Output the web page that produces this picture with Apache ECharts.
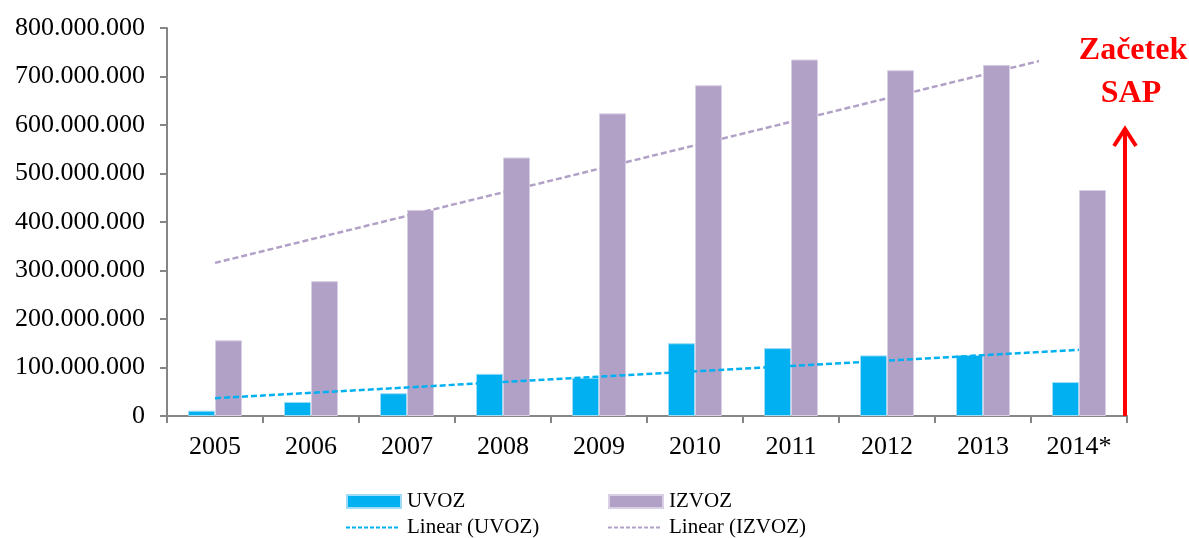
<!DOCTYPE html>
<html>
<head>
<meta charset="utf-8">
<script src="https://cdn.jsdelivr.net/npm/echarts@6/dist/echarts.min.js"></script>
<style>html,body{margin:0;padding:0;background:#fff}#c{width:1189px;height:538px}</style>
</head>
<body>
<div id="c"></div>
<script>
const categories = ['2005','2006','2007','2008','2009','2010','2011','2012','2013','2014*'];
const uvoz = [11000000, 29000000, 47000000, 87000000, 79000000, 150000000, 140000000, 125000000, 126000000, 70000000];
const izvoz = [156000000, 278000000, 425000000, 533000000, 624000000, 682000000, 735000000, 713000000, 724000000, 466000000];
const trendUvoz = [[0, 36700000], [9, 136400000]];
const trendIzvoz = [[0, 315700000], [9, 752000000]];
const yTicks = {min: 0, max: 800000000, interval: 100000000};
const annotation = ['Začetek', 'SAP'];

const font = 'Liberation Serif, Times New Roman, serif';
const blue = '#00B0F0', purple = '#B2A1C7';
const chart = echarts.init(document.getElementById('c'));
function fmt(v){ return String(Math.round(v)).replace(/\B(?=(\d{3})+(?!\d))/g, '.'); }
let dashPath = 'path://';
for (let i = 0; i < 9; i++) { const x = i * 6; dashPath += 'M' + x + ',0H' + (x + 4) + 'V2H' + x + 'Z'; }
function lg(name, left, top, icon, h, pad){
  return {data:[{name:name, icon: icon}], left:left, top:top, itemWidth:54, itemHeight:h, itemGap:0,
    padding:0, textStyle:{fontFamily:font, fontSize:21, color:'#000', padding:[0,0,0,pad]}, selectedMode:false};
}
chart.setOption({
  animation:false,
  textStyle:{fontFamily:font},
  grid:{left:167, right:62, top:28, bottom:122, containLabel:false},
  legend:[
    lg('UVOZ', 346, 491, 'rect', 13, 1),
    lg('IZVOZ', 608, 491, 'rect', 13, 1),
    lg('Linear (UVOZ)', 346, 517, dashPath, 2, 3),
    lg('Linear (IZVOZ)', 608, 517, dashPath, 2, 3)
  ],
  xAxis:{type:'category', data:categories,
    axisLine:{lineStyle:{color:'#868686', width:2}},
    axisTick:{show:true, length:7, lineStyle:{color:'#868686', width:2}, alignWithLabel:false},
    axisLabel:{fontFamily:font, fontSize:26, color:'#000', margin:18}},
  yAxis:{type:'value', min:yTicks.min, max:yTicks.max, interval:yTicks.interval,
    axisLine:{show:true, lineStyle:{color:'#868686', width:2}},
    axisTick:{show:true, length:7, lineStyle:{color:'#868686', width:2}},
    splitLine:{show:false},
    axisLabel:{fontFamily:font, fontSize:26, color:'#000', margin:22, formatter:fmt}},
  series:[
    {name:'UVOZ', type:'bar', data:uvoz, barWidth:27, barGap:'0%', itemStyle:{color:blue, borderColor:'#9fdcf5', borderWidth:1}, z:2},
    {name:'IZVOZ', type:'bar', data:izvoz, barWidth:27, barGap:'0%', itemStyle:{color:purple, borderColor:'#d9cfe4', borderWidth:1}, z:2},
    {name:'Linear (UVOZ)', type:'line', data:trendUvoz, symbol:'none', lineStyle:{color:blue, width:2.5, type:[6,3]}, itemStyle:{color:blue}, z:5},
    {name:'Linear (IZVOZ)', type:'line', data:trendIzvoz, symbol:'none', lineStyle:{color:purple, width:2.5, type:[6,3]}, itemStyle:{color:purple}, z:5}
  ],
  graphic:[
    {type:'rect', z:100, shape:{x:1039, y:18, width:150, height:100}, style:{fill:'#fff'}},
    {type:'text', z:101, style:{x:1133, y:51, text:annotation[0], fill:'#FF0000', font:'bold 32px '+font, textAlign:'center', textVerticalAlign:'middle'}},
    {type:'text', z:101, style:{x:1131, y:94, text:annotation[1], fill:'#FF0000', font:'bold 32px '+font, textAlign:'center', textVerticalAlign:'middle'}},
    {type:'line', z:101, shape:{x1:1125, y1:416, x2:1125, y2:130}, style:{stroke:'#FF0000', lineWidth:4}},
    {type:'polyline', z:101, shape:{points:[[1114,146],[1125,129],[1136,146]]}, style:{stroke:'#FF0000', lineWidth:4, fill:null, lineJoin:'miter'}}
  ]
});
</script>
</body>
</html>
